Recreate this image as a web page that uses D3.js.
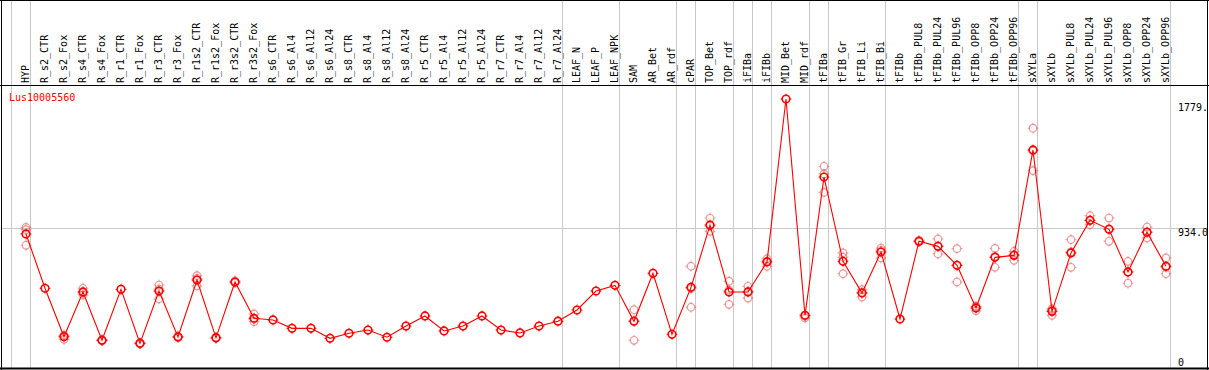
<!DOCTYPE html>
<html>
<head>
<meta charset="utf-8">
<script src="https://cdn.jsdelivr.net/npm/d3@7"></script>
<style>
  html, body { margin: 0; padding: 0; background: #fff; }
  svg { display: block; }
  text { font-family: "DejaVu Sans Mono", "Liberation Mono", monospace; font-size: 10px; }
</style>
</head>
<body>
<svg id="chart" width="1209" height="370"></svg>
<script>
const geneName = "Lus10005560";

const categories = ["HYP","R_s2_CTR","R_s2_Fox","R_s4_CTR","R_s4_Fox","R_r1_CTR","R_r1_Fox","R_r3_CTR","R_r3_Fox",
  "R_r1s2_CTR","R_r1s2_Fox","R_r3s2_CTR","R_r3s2_Fox","R_s6_CTR","R_s6_Al4","R_s6_Al12","R_s6_Al24",
  "R_s8_CTR","R_s8_Al4","R_s8_Al12","R_s8_Al24","R_r5_CTR","R_r5_Al4","R_r5_Al12","R_r5_Al24",
  "R_r7_CTR","R_r7_Al4","R_r7_Al12","R_r7_Al24","LEAF_N","LEAF_P","LEAF_NPK","SAM","AR_Bet","AR_rdf",
  "cPAR","TOP_Bet","TOP_rdf","iFIBa","iFIBb","MID_Bet","MID_rdf","tFIBa","tFIB_Gr","tFIB_Li","tFIB_Bi",
  "tFIBb","tFIBb_PUL8","tFIBb_PUL24","tFIBb_PUL96","tFIBb_OPP8","tFIBb_OPP24","tFIBb_OPP96",
  "sXYLa","sXYLb","sXYLb_PUL8","sXYLb_PUL24","sXYLb_PUL96","sXYLb_OPP8","sXYLb_OPP24","sXYLb_OPP96"];

const meanValues = [897,542,225,518,202,535,182,524,224,596,218,583,346,335,280,280,215,248,269,222,295,
  361,263,295,361,269,250,295,327,400,524,561,326,640,241,548,955,518,518,714,1779,365,1269,718,511,779,
  341,849,816,692,413,744,757,1446,391,773,986,927,648,908,686];

const replicateValues = [
  [940,925,823], [], [236,208,230], [542,498,515], [205,198,203], [], [185,178,183], [563,472,537], [228,220],
  [624,557,607], [222,214], [590,578], [374,324,340], [], [], [], [],
  [], [], [], [], [], [], [], [],
  [], [], [], [], [], [], [], [402,202,330], [], [],
  [686,418,540], [1001,914,950], [588,437,530], [555,478,520], [735,686,720], [], [348,360],
  [1339,1289,1169], [773,637,745], [533,485,515], [805,740,790],
  [], [855,845], [864,766,818], [801,583,692], [395,420,425], [803,679,750], [784,725,762],
  [1588,1311,1440], [409,365,399], [860,679,780], [1016,958,985], [1001,849,930], [718,575,650], [942,871,910], [740,637,680]
];

const separatorsAfter = ["HYP","R_r7_Al24","LEAF_NPK","AR_rdf","cPAR","TOP_rdf","iFIBa","iFIBb","MID_rdf",
  "tFIBa","tFIB_Bi","tFIBb_OPP96","sXYLa","sXYLb_OPP96"];

const gridValues = [934];
const yTickValues = [1779, 934, 0];
const yTickLabels = ["1779.", "934.0", "0"];

(function () {
const svg = d3.select("#chart");
const W = 1209;
const pLeft = 1, pRight = 1207, pTop = 0, headerBottom = 85, pBottom = 368;

const x = d3.scalePoint().domain(categories).range([26, 1166]);
const step = x.step();
const y = d3.scaleLinear().domain([0, 1779]).range([371.2, 99]);

// vertical separators (full height)
const sepX = [x(categories[0]) - step].concat(separatorsAfter.map(c => x(c)))
  .map(v => Math.floor(v + 4.5) + 0.5);
svg.append("g").selectAll("line").data(sepX).join("line")
  .attr("x1", d => d).attr("x2", d => d)
  .attr("y1", pTop).attr("y2", pBottom)
  .attr("stroke", "#c8c8c8").attr("stroke-width", 1);

// horizontal grid
svg.append("g").selectAll("line").data(gridValues).join("line")
  .attr("x1", pLeft).attr("x2", pRight)
  .attr("y1", d => Math.round(y(d)) + 0.5).attr("y2", d => Math.round(y(d)) + 0.5)
  .attr("stroke", "#c8c8c8").attr("stroke-width", 1);

// header labels
svg.append("g").selectAll("text").data(categories).join("text")
  .attr("transform", d => `translate(${x(d) + 3},83) rotate(-90)`)
  .attr("text-anchor", "start")
  .attr("fill", "#000")
  .text(d => d);

// gene name
svg.append("text").attr("x", 9).attr("y", 101).attr("fill", "#ff0000").text(geneName);

// right axis labels
svg.append("g").selectAll("text").data(yTickValues).join("text")
  .attr("x", 1178)
  .attr("y", d => Math.max(110.8, Math.min(365.6, y(d) + 7.5)))
  .attr("fill", "#000")
  .text((d, i) => yTickLabels[i]);

function marker(g, r, color, sw) {
  g.append("circle").attr("r", r).attr("fill", "none").attr("stroke", color).attr("stroke-width", sw);
  const t = [[0,-r-1.6,0,-r+0.4],[0,r-0.4,0,r+1.6],[-r-1.6,0,-r+0.4,0],[r-0.4,0,r+1.6,0]];
  t.forEach(a => g.append("line").attr("x1",a[0]).attr("y1",a[1]).attr("x2",a[2]).attr("y2",a[3])
    .attr("stroke", color).attr("stroke-width", 1));
}

// replicates
const repData = [];
categories.forEach((c, i) => replicateValues[i].forEach(v => repData.push({c, v})));
svg.append("g").selectAll("g").data(repData).join("g")
  .attr("transform", d => `translate(${x(d.c)},${y(d.v)})`)
  .each(function() { marker(d3.select(this), 3.8, "rgba(230,80,80,0.55)", 1.2); });

// main line
const pts = categories.map((c, i) => ({c, v: meanValues[i]}));
svg.append("path").datum(pts)
  .attr("d", d3.line().x(d => x(d.c)).y(d => y(d.v)))
  .attr("fill", "none").attr("stroke", "#ff0000").attr("stroke-width", 1.1);

svg.append("g").selectAll("g").data(pts).join("g")
  .attr("transform", d => `translate(${x(d.c)},${y(d.v)})`)
  .each(function() { marker(d3.select(this), 3.8, "#ff0000", 1.6); });

// borders
svg.append("line").attr("x1", 0).attr("x2", W).attr("y1", 0.5).attr("y2", 0.5).attr("stroke", "#000");
svg.append("line").attr("x1", 0).attr("x2", W).attr("y1", headerBottom + 0.5).attr("y2", headerBottom + 0.5).attr("stroke", "#000");
svg.append("line").attr("x1", 0).attr("x2", W).attr("y1", pBottom + 0.5).attr("y2", pBottom + 0.5).attr("stroke", "#000").attr("stroke-width", 2);
svg.append("line").attr("x1", pLeft + 0.5).attr("x2", pLeft + 0.5).attr("y1", 0).attr("y2", 370).attr("stroke", "#000");
svg.append("line").attr("x1", pRight + 0.5).attr("x2", pRight + 0.5).attr("y1", 0).attr("y2", 370).attr("stroke", "#000");
})();
</script>
</body>
</html>
